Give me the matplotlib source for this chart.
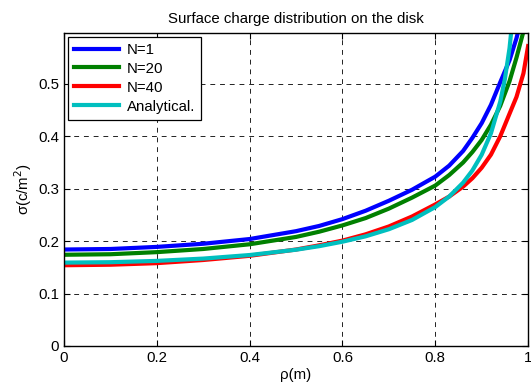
import matplotlib
matplotlib.use("Agg")
import matplotlib.pyplot as plt

plt.rcParams["font.family"] = ["Liberation Sans", "DejaVu Sans"]

# values
rho_n1 = [0, 0.1, 0.2, 0.3, 0.4, 0.5, 0.55, 0.6, 0.65, 0.7, 0.75, 0.8, 0.83, 0.86, 0.88,
          0.9, 0.92, 0.94, 0.96, 0.975, 0.99]
sig_n1 = [0.184, 0.185, 0.189, 0.195, 0.204, 0.219, 0.229, 0.242, 0.258, 0.277, 0.298, 0.323,
          0.344, 0.372, 0.397, 0.425, 0.460, 0.503, 0.545, 0.587, 0.640]

rho_n20 = [0, 0.1, 0.2, 0.3, 0.4, 0.5, 0.55, 0.6, 0.65, 0.7, 0.75, 0.8, 0.83, 0.86, 0.88,
           0.9, 0.92, 0.94, 0.96, 0.975, 0.99, 1.0]
sig_n20 = [0.174, 0.175, 0.179, 0.185, 0.194, 0.208, 0.218, 0.230, 0.244, 0.262, 0.283, 0.306,
           0.326, 0.350, 0.370, 0.393, 0.422, 0.458, 0.505, 0.550, 0.600, 0.640]

rho_n40 = [0, 0.1, 0.2, 0.3, 0.4, 0.5, 0.55, 0.6, 0.65, 0.7, 0.75, 0.8, 0.83, 0.86, 0.88,
           0.9, 0.92, 0.94, 0.96, 0.975, 0.99, 1.0]
sig_n40 = [0.154, 0.155, 0.158, 0.164, 0.172, 0.184, 0.192, 0.201, 0.213, 0.228, 0.247, 0.270,
           0.285, 0.304, 0.320, 0.340, 0.365, 0.400, 0.443, 0.475, 0.520, 0.572]

rho_an = [0, 0.1, 0.2, 0.3, 0.4, 0.5, 0.55, 0.6, 0.65, 0.7, 0.75, 0.8, 0.83, 0.86, 0.88,
          0.9, 0.92, 0.94, 0.95, 0.96, 0.97]
sig_an = [0.159, 0.1598, 0.1623, 0.1667, 0.1735, 0.1836, 0.1904, 0.1989, 0.2092, 0.2227, 0.2404,
          0.2650, 0.2851, 0.3116, 0.3348, 0.3648, 0.4057, 0.4660, 0.5092, 0.5680, 0.654]

fs = 10.8

fig = plt.figure(figsize=(5.31, 3.87), dpi=100)
ax = fig.add_axes([0.1205, 0.106, 0.874, 0.8087])

lw = 3
ax.plot(rho_n1, sig_n1, color="#0000ff", lw=lw, label="N=1")
ax.plot(rho_n20, sig_n20, color="#008000", lw=lw, label="N=20")
ax.plot(rho_n40, sig_n40, color="#ff0000", lw=lw, label="N=40")
ax.plot(rho_an, sig_an, color="#00bfbf", lw=lw, label="Analytical.")

ax.set_xlim(0, 1)
ax.set_ylim(0, 0.597)
ax.set_xticks([0, 0.2, 0.4, 0.6, 0.8, 1])
ax.set_xticklabels(["0", "0.2", "0.4", "0.6", "0.8", "1"])
ax.set_yticks([0, 0.1, 0.2, 0.3, 0.4, 0.5])
ax.set_yticklabels(["0", "0.1", "0.2", "0.3", "0.4", "0.5"])
ax.tick_params(direction="in", top=True, right=True, labelsize=fs, length=4, width=0.8)
ax.grid(True, color="#222222", linestyle=(0, (5, 5)), linewidth=0.7)
for s in ax.spines.values():
    s.set_linewidth(1.0)

ax.set_title("Surface charge distribution on the disk", fontsize=fs, pad=7)
ax.set_xlabel("ρ(m)", fontsize=fs, labelpad=2)
ax.set_ylabel("σ(c/m$^2$)", fontsize=fs, labelpad=3)

leg = ax.legend(loc="upper left", fontsize=fs, fancybox=False, framealpha=1,
                edgecolor="black", handlelength=3.05, handletextpad=0.47, borderpad=0.4,
                labelspacing=0.33, borderaxespad=0.25)
leg.get_frame().set_linewidth(0.9)

fig.savefig("out.png", dpi=100)
